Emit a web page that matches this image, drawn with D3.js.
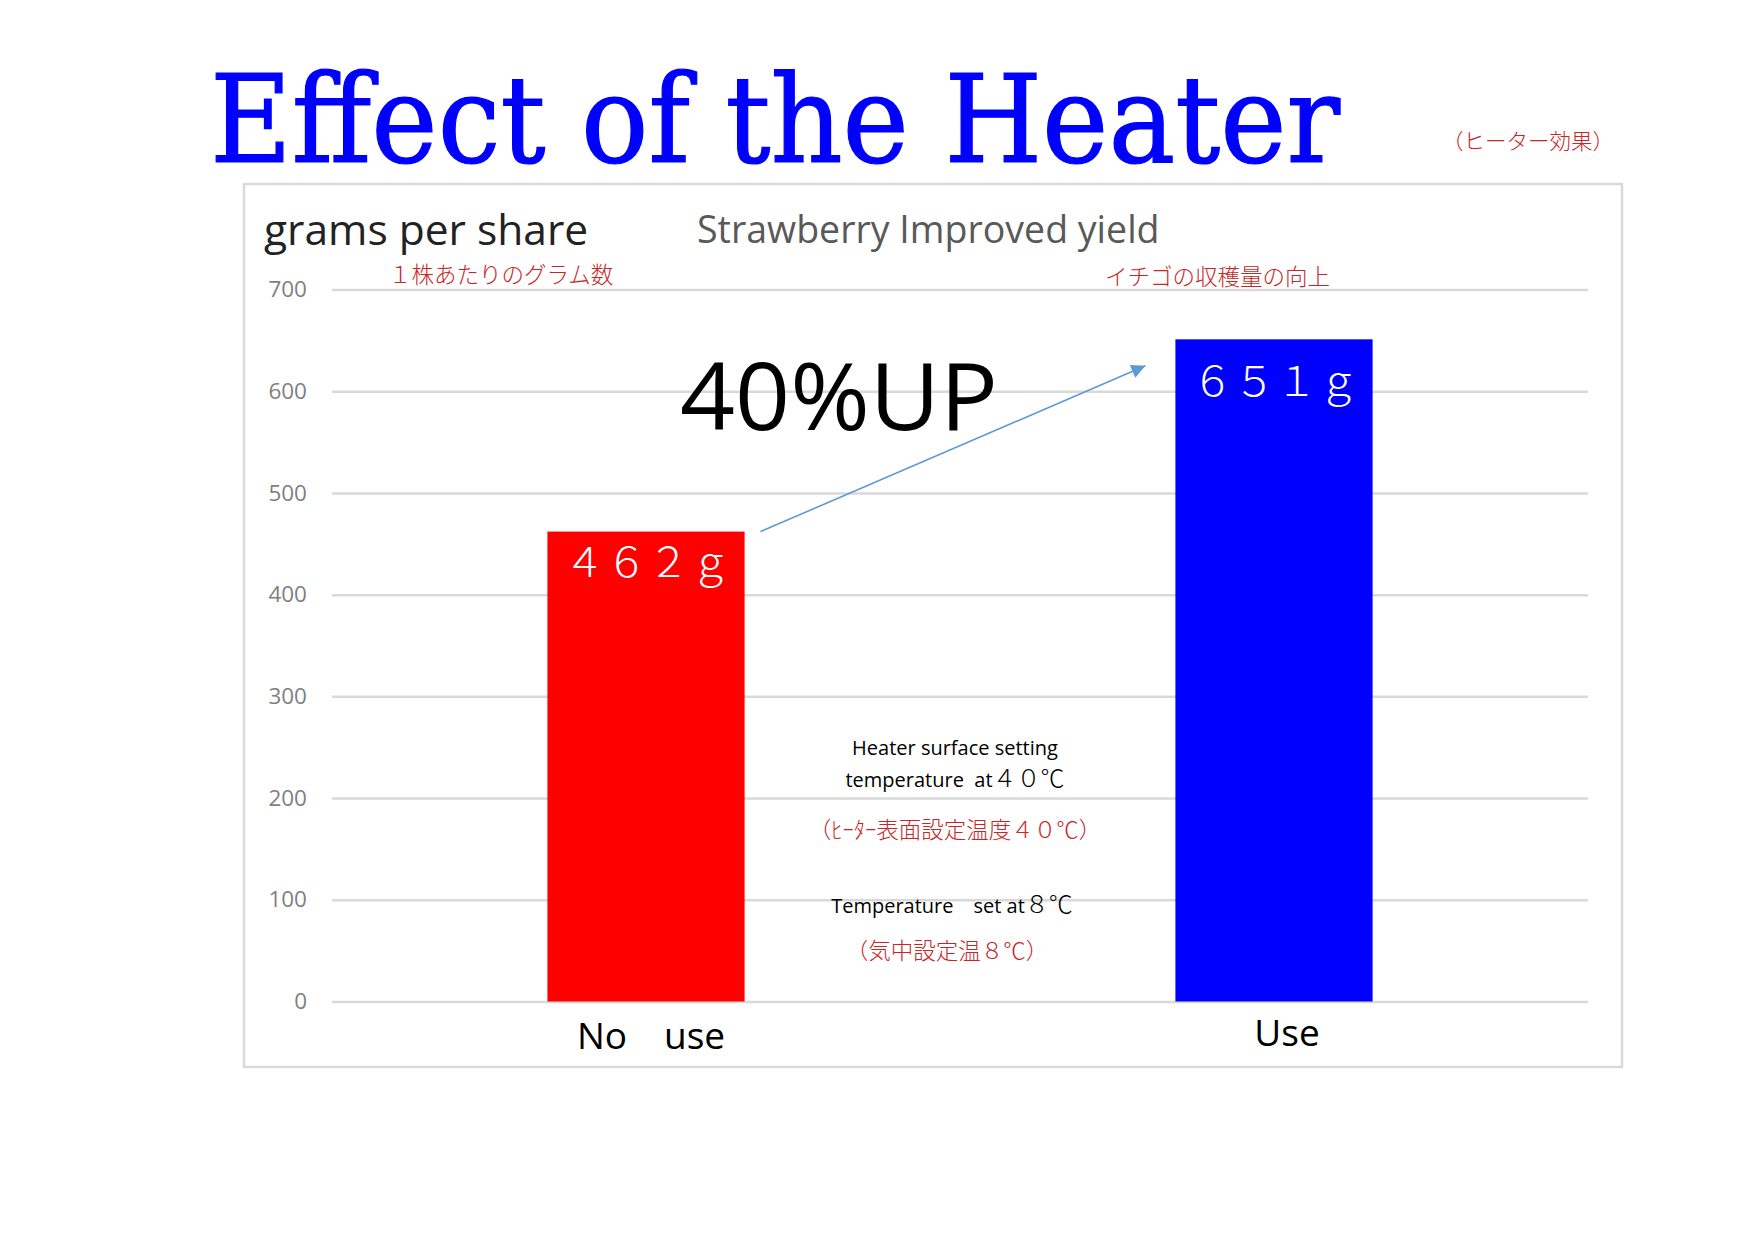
<!DOCTYPE html>
<html>
<head>
<meta charset="utf-8">
<script src="https://cdn.jsdelivr.net/npm/d3@7"></script>
<style>
  body { margin: 0; background: #fff; }
</style>
</head>
<body>
<script>
// chart data
var categories = ["No\u3000use", "Use"];
var yields = [462, 651];
var valueLabels = ["４６２ｇ", "６５１ｇ"];
var yTicks = [0, 100, 200, 300, 400, 500, 600, 700];
var barColors = ["#ff0000", "#0000ff"];

var width = 1754,
    height = 1240;

var plot = {left: 332, right: 1588, top: 289.5, bottom: 1001.5};
var red = "#c82626";
var cjk = "'Noto Sans CJK JP', 'Noto Sans CJK SC', sans-serif";
var sans = "'Open Sans', 'Noto Sans CJK JP', sans-serif";

var svg = d3.select("body")
    .append("svg")
    .attr("width", width)
    .attr("height", height);

svg.append("rect")
    .attr("width", width)
    .attr("height", height)
    .attr("fill", "#fff");

// big title
svg.append("text")
    .attr("x", 210)
    .attr("y", 162)
    .attr("textLength", 1130)
    .attr("lengthAdjust", "spacingAndGlyphs")
    .style("font-family", "'DejaVu Serif Condensed', 'DejaVu Serif', serif")
    .style("font-size", "122px")
    .style("fill", "#0000ff")
    .style("stroke", "#0000ff")
    .style("stroke-width", 1.2)
    .text("Effect of the Heater");

svg.append("text")
    .attr("x", 1442)
    .attr("y", 139)
    .attr("dominant-baseline", "central")
    .style("font-family", cjk)
    .style("font-weight", 300)
    .style("font-size", "21.5px")
    .style("fill", red)
    .text("（ヒーター効果）");

// chart frame
svg.append("rect")
    .attr("x", 244)
    .attr("y", 184)
    .attr("width", 1378)
    .attr("height", 883)
    .attr("fill", "#fff")
    .attr("stroke", "#d9d9d9")
    .attr("stroke-width", 2.5);

var x = d3.scaleBand()
    .domain(categories)
    .range([plot.left, plot.right])
    .paddingInner(0.686)
    .paddingOuter(0.343);

var y = d3.scaleLinear()
    .domain([0, 700])
    .range([plot.bottom, plot.top]);

// y axis + gridlines
var yAxis = svg.append("g")
    .attr("transform", "translate(" + plot.left + ",0)")
    .call(d3.axisLeft(y)
        .tickValues(yTicks)
        .tickSize(-(plot.right - plot.left))
        .tickPadding(25));

yAxis.select(".domain").remove();
yAxis.selectAll(".tick line")
    .attr("stroke", "#d9d9d9")
    .attr("stroke-width", 2.5);
yAxis.selectAll(".tick text")
    .style("font-family", sans)
    .style("font-size", "22.5px")
    .style("fill", "#7f7f7f");

// headings inside the frame
svg.append("text")
    .attr("x", 264)
    .attr("y", 245)
    .style("font-family", sans)
    .style("font-size", "42.5px")
    .style("fill", "#222")
    .text("grams per share");

svg.append("text")
    .attr("x", 697)
    .attr("y", 243)
    .style("font-family", sans)
    .style("font-size", "37.5px")
    .style("fill", "#595959")
    .text("Strawberry Improved yield");

svg.append("text")
    .attr("x", 389)
    .attr("y", 273)
    .attr("dominant-baseline", "central")
    .style("font-family", cjk)
    .style("font-weight", 300)
    .style("font-size", "22.5px")
    .style("fill", red)
    .text("１株あたりのグラム数");

svg.append("text")
    .attr("x", 1105)
    .attr("y", 275)
    .attr("dominant-baseline", "central")
    .style("font-family", cjk)
    .style("font-weight", 300)
    .style("font-size", "22.5px")
    .style("fill", red)
    .text("イチゴの収穫量の向上");

// bars
svg.append("g")
    .selectAll("rect")
    .data(yields)
    .enter().append("rect")
    .attr("x", function (d, i) { return x(categories[i]); })
    .attr("y", function (d) { return y(d); })
    .attr("width", x.bandwidth())
    .attr("height", function (d) { return y(0) - y(d); })
    .attr("fill", function (d, i) { return barColors[i]; });

// value labels
var labelDrop = [45, 57];
svg.append("g")
    .selectAll("text")
    .data(yields)
    .enter().append("text")
    .attr("x", function (d, i) { return x(categories[i]) + x.bandwidth() / 2 + 2; })
    .attr("y", function (d, i) { return y(d) + labelDrop[i]; })
    .attr("text-anchor", "middle")
    .style("font-family", cjk)
    .style("font-weight", 300)
    .style("font-size", "41px")
    .style("letter-spacing", "1px")
    .style("fill", "#fff")
    .text(function (d, i) { return valueLabels[i]; });

// category labels
var catNudge = [5, 13],
    catBase = [1049, 1046];
svg.append("g")
    .selectAll("text")
    .data(categories)
    .enter().append("text")
    .attr("x", function (d, i) { return x(d) + x.bandwidth() / 2 + catNudge[i]; })
    .attr("y", function (d, i) { return catBase[i]; })
    .attr("text-anchor", "middle")
    .style("font-family", sans)
    .style("font-size", "37px")
    .style("fill", "#000")
    .text(function (d) { return d; });

// arrow
svg.append("defs").append("marker")
    .attr("id", "head")
    .attr("markerUnits", "userSpaceOnUse")
    .attr("viewBox", "0 0 10 10")
    .attr("refX", 10)
    .attr("refY", 5)
    .attr("markerWidth", 20)
    .attr("markerHeight", 14)
    .attr("orient", "auto")
    .append("path")
    .attr("d", "M0,0L10,5L0,10Z")
    .attr("fill", "#5b9bd5");

svg.append("line")
    .attr("x1", x(categories[0]) + x.bandwidth() + 16)
    .attr("y1", y(yields[0]))
    .attr("x2", x(categories[1]) - 30)
    .attr("y2", y(625))
    .attr("stroke", "#5b9bd5")
    .attr("stroke-width", 1.6)
    .attr("marker-end", "url(#head)");

svg.append("text")
    .attr("x", 839)
    .attr("y", 430)
    .attr("text-anchor", "middle")
    .attr("textLength", 318)
    .attr("lengthAdjust", "spacingAndGlyphs")
    .style("font-family", sans)
    .style("font-size", "94px")
    .style("fill", "#000")
    .text("40%UP");

// notes between the bars
svg.append("text")
    .attr("x", 955).attr("y", 755)
    .attr("text-anchor", "middle")
    .style("font-family", sans)
    .style("font-size", "20px")
    .style("fill", "#000")
    .text("Heater surface setting");

var n2 = svg.append("text")
    .attr("x", 955).attr("y", 787)
    .attr("text-anchor", "middle")
    .attr("xml:space", "preserve")
    .style("font-family", sans)
    .style("font-size", "20px")
    .style("fill", "#000");
n2.append("tspan").text("temperature  at");
n2.append("tspan")
    .style("font-family", cjk)
    .style("font-weight", 300)
    .style("font-size", "24px")
    .text("４０℃");

svg.append("text")
    .attr("x", 955).attr("y", 828)
    .attr("text-anchor", "middle")
    .attr("dominant-baseline", "central")
    .style("font-family", cjk)
    .style("font-weight", 300)
    .style("font-size", "22.5px")
    .style("fill", red)
    .text("（ﾋｰﾀｰ表面設定温度４０℃）");

var n3 = svg.append("text")
    .attr("x", 952).attr("y", 913)
    .attr("text-anchor", "middle")
    .style("font-family", sans)
    .style("font-size", "20px")
    .style("fill", "#000");
n3.append("tspan").text("Temperature\u3000set at");
n3.append("tspan")
    .style("font-family", cjk)
    .style("font-weight", 300)
    .style("font-size", "24px")
    .text("８℃");

svg.append("text")
    .attr("x", 947).attr("y", 949)
    .attr("text-anchor", "middle")
    .attr("dominant-baseline", "central")
    .style("font-family", cjk)
    .style("font-weight", 300)
    .style("font-size", "22.5px")
    .style("fill", red)
    .text("（気中設定温８℃）");
</script>
</body>
</html>
